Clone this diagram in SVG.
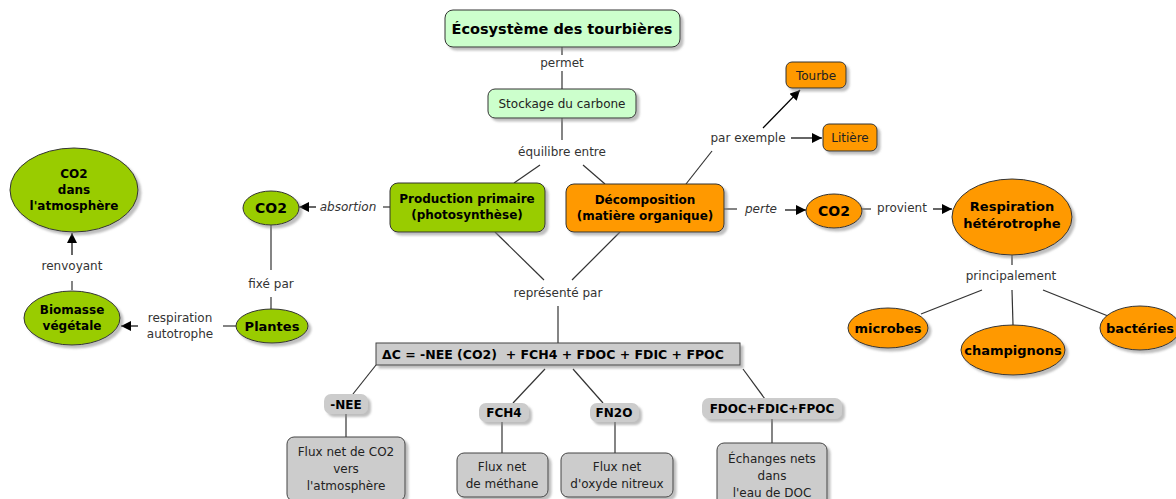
<svg xmlns="http://www.w3.org/2000/svg" width="1176" height="499" viewBox="0 0 1176 499">
<defs>
<filter id="sh" x="-20%" y="-20%" width="150%" height="150%">
<feDropShadow dx="3" dy="3" stdDeviation="1" flood-color="#888" flood-opacity="0.55"/>
</filter>
<marker id="ah" viewBox="0 0 10 10" refX="10" refY="5" markerWidth="10" markerHeight="10" markerUnits="userSpaceOnUse" orient="auto">
<path d="M0,0 L10,5 L0,10 z" fill="#000"/>
</marker>
<style>
text{font-family:"DejaVu Sans",Verdana,"Liberation Sans",sans-serif;text-anchor:middle;}
.n{font-size:12px;font-weight:bold;fill:#000;}
.r{font-size:12px;fill:#222;}
.lk{font-size:12px;fill:#333;}
.it{font-style:italic;}
.g{fill:#99cc00;stroke:#333;stroke-width:1;filter:url(#sh);}
.o{fill:#ff9900;stroke:#333;stroke-width:1;filter:url(#sh);}
.lg{fill:#ccffcc;stroke:#333;stroke-width:1;filter:url(#sh);}
.gr{fill:#cccccc;stroke:#444;stroke-width:1;filter:url(#sh);}
.gl{fill:#cccccc;stroke:none;filter:url(#sh);}
.c line{stroke:#333;stroke-width:1.2;}
.c .a{marker-end:url(#ah);stroke:#000;}
</style>
</defs>
<rect width="1176" height="499" fill="#fff"/>

<g id="connectors" class="c">
<line x1="562" y1="47" x2="562" y2="55"/>
<line x1="562" y1="71" x2="562" y2="89"/>
<text class="lk" x="562" y="67">permet</text>
<line x1="562" y1="118" x2="562" y2="140"/>
<text class="lk" x="562" y="156">équilibre entre</text>
<line x1="540" y1="165" x2="514" y2="183"/>
<line x1="583" y1="165" x2="605" y2="184"/>
<line x1="686" y1="184" x2="712" y2="151"/>
<text class="lk" x="748" y="142">par exemple</text>
<line class="a" x1="763" y1="128" x2="800" y2="90"/>
<line class="a" x1="791" y1="138" x2="822" y2="138"/>
<line x1="390" y1="207" x2="383" y2="207"/>
<text class="lk it" x="348" y="211">absortion</text>
<line class="a" x1="316" y1="207" x2="299" y2="207"/>
<line x1="271" y1="225" x2="271" y2="270"/>
<text class="lk" x="271" y="288">fixé par</text>
<line x1="271" y1="297" x2="271" y2="309"/>
<line x1="236" y1="326" x2="223" y2="326"/>
<text class="lk" x="180" y="322">respiration</text>
<text class="lk" x="180" y="338">autotrophe</text>
<line class="a" x1="138" y1="326" x2="121" y2="326"/>
<line x1="72" y1="290" x2="72" y2="281"/>
<text class="lk" x="72" y="270">renvoyant</text>
<line class="a" x1="72" y1="255" x2="72" y2="233"/>
<line x1="724" y1="209" x2="737" y2="209"/>
<text class="lk it" x="761" y="213">perte</text>
<line class="a" x1="785" y1="210" x2="806" y2="210"/>
<line x1="862" y1="209" x2="871" y2="209"/>
<text class="lk" x="902" y="212">provient</text>
<line class="a" x1="933" y1="209" x2="952" y2="209"/>
<line x1="1012" y1="255" x2="1012" y2="265"/>
<text class="lk" x="1011" y="280">principalement</text>
<line x1="982" y1="290" x2="921" y2="314"/>
<line x1="1012" y1="290" x2="1013" y2="325"/>
<line x1="1043" y1="290" x2="1108" y2="316"/>
<line x1="495" y1="232" x2="544" y2="280"/>
<line x1="620" y1="232" x2="572" y2="280"/>
<text class="lk" x="558" y="297">représenté par</text>
<line x1="558" y1="306" x2="558" y2="343"/>
<line x1="376" y1="365" x2="353" y2="394"/>
<line x1="545" y1="369" x2="513" y2="403"/>
<line x1="573" y1="369" x2="603" y2="403"/>
<line x1="743" y1="369" x2="765" y2="399"/>
<line x1="346" y1="413" x2="346" y2="437"/>
<line x1="502" y1="422" x2="502" y2="453"/>
<line x1="615" y1="422" x2="615" y2="453"/>
<line x1="772" y1="419" x2="772" y2="443"/>
</g>

<g id="ecosysteme">
<rect class="lg" x="445" y="10" width="235" height="37" rx="8"/>
<text class="n" x="562" y="34" style="font-size:14.5px">Écosystème des tourbières</text>
</g>
<g id="stockage">
<rect class="lg" x="488" y="89" width="148" height="29" rx="7"/>
<text class="r" x="562" y="108">Stockage du carbone</text>
</g>
<g id="production">
<rect class="g" x="390" y="183" width="155" height="49" rx="8"/>
<text class="n" x="467" y="203">Production primaire</text>
<text class="n" x="467" y="219">(photosynthèse)</text>
</g>
<g id="decomposition">
<rect class="o" x="566" y="184" width="158" height="48" rx="8"/>
<text class="n" x="645" y="204">Décomposition</text>
<text class="n" x="645" y="220">(matière organique)</text>
</g>
<g id="tourbe">
<rect class="o" x="786" y="62" width="60" height="26" rx="6"/>
<text class="r" x="816" y="80">Tourbe</text>
</g>
<g id="litiere">
<rect class="o" x="823" y="124" width="54" height="27" rx="6"/>
<text class="r" x="850" y="142">Litière</text>
</g>
<g id="co2-vert">
<ellipse class="g" cx="271" cy="208" rx="28" ry="17"/>
<text class="n" x="271" y="213" style="font-size:14px">CO2</text>
</g>
<g id="plantes">
<ellipse class="g" cx="272" cy="326" rx="36" ry="17"/>
<text class="n" x="272" y="331" style="font-size:13px">Plantes</text>
</g>
<g id="biomasse">
<ellipse class="g" cx="72" cy="318" rx="48" ry="27"/>
<text class="n" x="72" y="314">Biomasse</text>
<text class="n" x="72" y="330">végétale</text>
</g>
<g id="co2-atmosphere">
<ellipse class="g" cx="74" cy="190" rx="64" ry="42"/>
<text class="n" x="74" y="178">CO2</text>
<text class="n" x="74" y="194">dans</text>
<text class="n" x="74" y="210">l'atmosphère</text>
</g>
<g id="co2-orange">
<ellipse class="o" cx="834" cy="211" rx="28" ry="17"/>
<text class="n" x="834" y="216" style="font-size:14px">CO2</text>
</g>
<g id="respiration">
<ellipse class="o" cx="1012" cy="217" rx="60" ry="38"/>
<text class="n" x="1012" y="211" style="font-size:13px">Respiration</text>
<text class="n" x="1012" y="228" style="font-size:13px">hétérotrophe</text>
</g>
<g id="microbes">
<ellipse class="o" cx="888" cy="328" rx="40" ry="20"/>
<text class="n" x="888" y="333" style="font-size:13px">microbes</text>
</g>
<g id="champignons">
<ellipse class="o" cx="1013" cy="350" rx="52" ry="25"/>
<text class="n" x="1013" y="355" style="font-size:13px">champignons</text>
</g>
<g id="bacteries">
<ellipse class="o" cx="1140" cy="328" rx="40" ry="22"/>
<text class="n" x="1140" y="333" style="font-size:13px">bactéries</text>
</g>
<g id="equation">
<rect class="gr" x="376" y="343" width="364" height="22"/>
<text class="n" x="382" y="359" style="text-anchor:start;white-space:pre;font-size:12.5px" xml:space="preserve">ΔC = -NEE (CO2)  + FCH4 + FDOC + FDIC + FPOC</text>
</g>
<g id="nee">
<rect class="gl" x="324" y="394" width="44" height="20" rx="7"/>
<text class="n" x="346" y="409">-NEE</text>
</g>
<g id="fch4">
<rect class="gl" x="479" y="403" width="50" height="19" rx="7"/>
<text class="n" x="504" y="417">FCH4</text>
</g>
<g id="fn2o">
<rect class="gl" x="590" y="403" width="49" height="19" rx="7"/>
<text class="n" x="614" y="417">FN2O</text>
</g>
<g id="fdoc">
<rect class="gl" x="702" y="398" width="140" height="21" rx="7"/>
<text class="n" x="772" y="413">FDOC+FDIC+FPOC</text>
</g>
<g id="flux-co2">
<rect class="gr" x="287" y="437" width="118" height="64" rx="7"/>
<text class="r" x="346" y="456">Flux net de CO2</text>
<text class="r" x="346" y="473">vers</text>
<text class="r" x="346" y="490">l'atmosphère</text>
</g>
<g id="flux-methane">
<rect class="gr" x="457" y="453" width="91" height="44" rx="7"/>
<text class="r" x="502" y="471">Flux net</text>
<text class="r" x="502" y="488">de méthane</text>
</g>
<g id="flux-n2o">
<rect class="gr" x="561" y="453" width="112" height="44" rx="7"/>
<text class="r" x="617" y="471">Flux net</text>
<text class="r" x="617" y="488">d'oxyde nitreux</text>
</g>
<g id="echanges">
<rect class="gr" x="717" y="443" width="110" height="64" rx="7"/>
<text class="r" x="772" y="463">Échanges nets</text>
<text class="r" x="772" y="480">dans</text>
<text class="r" x="772" y="497">l'eau de DOC</text>
</g>
</svg>
